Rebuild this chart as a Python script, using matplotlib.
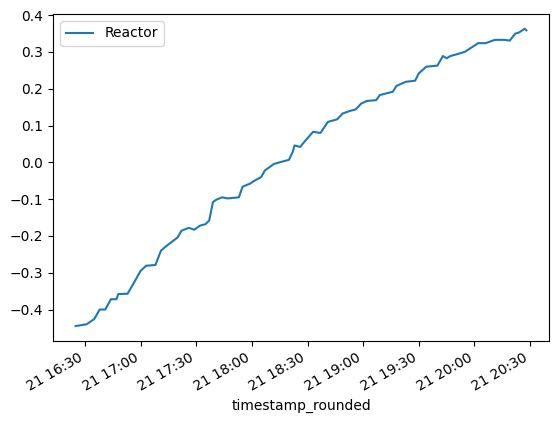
import pandas as pd
import matplotlib
matplotlib.use('Agg')
import matplotlib.pyplot as plt
import matplotlib.dates as mdates

# readings of the reactor signal (day 21)
times = ['16:25', '16:31', '16:35', '16:38', '16:41', '16:44', '16:47', '16:48',
         '16:53', '16:56', '17:00', '17:03', '17:08', '17:11', '17:14', '17:20',
         '17:22', '17:26', '17:29', '17:32', '17:35', '17:37', '17:39', '17:41',
         '17:44', '17:47', '17:53', '17:55', '17:59', '18:01', '18:05', '18:07',
         '18:12', '18:20', '18:22', '18:23', '18:26', '18:29', '18:33', '18:37',
         '18:41', '18:46', '18:49', '18:53', '18:56', '18:59', '19:02', '19:07',
         '19:09', '19:16', '19:18', '19:23', '19:28', '19:30', '19:34', '19:40',
         '19:43', '19:45', '19:47', '19:52', '19:55', '20:02', '20:06', '20:11',
         '20:16', '20:19', '20:22', '20:24', '20:27', '20:28']
reactor = [-0.445, -0.440, -0.426, -0.400, -0.400, -0.372, -0.372, -0.358,
           -0.357, -0.331, -0.295, -0.281, -0.279, -0.240, -0.227, -0.204,
           -0.186, -0.178, -0.183, -0.172, -0.168, -0.158, -0.108, -0.101,
           -0.095, -0.098, -0.095, -0.066, -0.058, -0.051, -0.040, -0.022,
           -0.004, 0.007, 0.028, 0.046, 0.042, 0.060, 0.083, 0.080,
           0.110, 0.117, 0.133, 0.140, 0.144, 0.160, 0.167, 0.169,
           0.183, 0.192, 0.208, 0.219, 0.222, 0.242, 0.260, 0.263,
           0.289, 0.283, 0.289, 0.296, 0.301, 0.324, 0.324, 0.333,
           0.333, 0.331, 0.350, 0.353, 0.363, 0.359]

df = pd.DataFrame({'Reactor': reactor},
                  index=pd.to_datetime(['2023-01-21 ' + t for t in times]))
df.index.name = 'timestamp_rounded'

fig, ax = plt.subplots(figsize=(5.59, 4.23), dpi=100)
fig.subplots_adjust(left=0.095, right=0.982, top=0.967, bottom=0.194)

ax.plot(df.index, df['Reactor'], color='#1f77b4', label='Reactor')
ax.xaxis.set_major_locator(mdates.MinuteLocator(byminute=[0, 30]))
ax.xaxis.set_major_formatter(mdates.DateFormatter('%d %H:%M'))
ax.set_xlabel('timestamp_rounded')
ax.legend(loc='upper left')
for lab in ax.get_xticklabels():
    lab.set_rotation(30)
    lab.set_ha('right')

plt.savefig('out.png')
